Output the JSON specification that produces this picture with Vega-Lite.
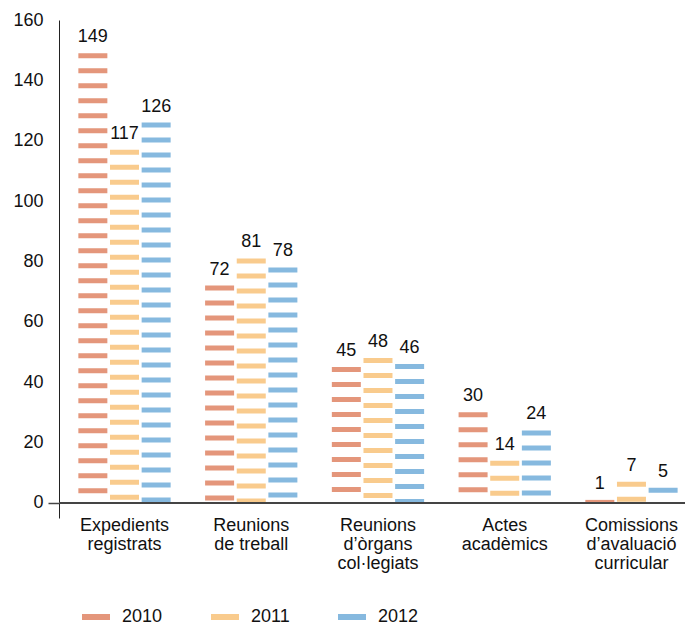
{
  "$schema": "https://vega.github.io/schema/vega-lite/v6.json",
  "width": 626,
  "height": 498,
  "autosize": {"type": "none"},
  "padding": {"left": 59, "top": 20, "right": 0, "bottom": 107},
  "background": "white",
  "config": {"view": {"stroke": null}, "font": "Liberation Sans"},
  "data": {
    "values": [
      {"cat": "Expedients|registrats", "year": "2010", "v": 149},
      {"cat": "Expedients|registrats", "year": "2011", "v": 117},
      {"cat": "Expedients|registrats", "year": "2012", "v": 126},
      {"cat": "Reunions|de treball", "year": "2010", "v": 72},
      {"cat": "Reunions|de treball", "year": "2011", "v": 81},
      {"cat": "Reunions|de treball", "year": "2012", "v": 78},
      {"cat": "Reunions|d’òrgans|col·legiats", "year": "2010", "v": 45},
      {"cat": "Reunions|d’òrgans|col·legiats", "year": "2011", "v": 48},
      {"cat": "Reunions|d’òrgans|col·legiats", "year": "2012", "v": 46},
      {"cat": "Actes|acadèmics", "year": "2010", "v": 30},
      {"cat": "Actes|acadèmics", "year": "2011", "v": 14},
      {"cat": "Actes|acadèmics", "year": "2012", "v": 24},
      {"cat": "Comissions|d’avaluació|curricular", "year": "2010", "v": 1},
      {"cat": "Comissions|d’avaluació|curricular", "year": "2011", "v": 7},
      {"cat": "Comissions|d’avaluació|curricular", "year": "2012", "v": 5}
    ]
  },
  "layer": [
    {
      "mark": {"type": "rule", "strokeWidth": 29, "strokeDash": [5, 10], "strokeCap": "butt"},
      "encoding": {
        "x": {
          "field": "cat", "type": "nominal", "sort": null,
          "scale": {"paddingInner": 0.266, "paddingOuter": 0.1026, "align": 0.73},
          "axis": {
            "title": null, "domain": false, "ticks": false,
            "labelExpr": "split(datum.label, '|')",
            "labelFontSize": 18, "labelColor": "#111", "labelLineHeight": 19,
            "labelPadding": -2, "labelAngle": 0, "labelBaseline": "top"
          }
        },
        "xOffset": {"field": "year", "type": "nominal", "scale": {"paddingInner": 0.06, "paddingOuter": 0}},
        "y": {
          "field": "v", "type": "quantitative",
          "scale": {"domain": [-5, 160], "nice": false, "zero": false},
          "axis": {
            "title": null, "grid": false,
            "values": [0, 20, 40, 60, 80, 100, 120, 140, 160],
            "domainColor": "#222", "domainWidth": 1,
            "tickSize": 11, "tickColor": "#444", "tickWidth": 1.5,
            "tickOpacity": {"condition": {"test": "datum.value === 0", "value": 1}, "value": 0},
            "labelFontSize": 18, "labelColor": "#111", "labelPadding": 5
          }
        },
        "y2": {"datum": 0},
        "color": {
          "field": "year", "type": "nominal",
          "scale": {"range": ["#E4967B", "#F9CB8D", "#86B9DF"]},
          "legend": {
            "orient": "none", "legendX": 20, "legendY": 580,
            "direction": "horizontal", "title": null,
            "symbolType": "stroke", "symbolSize": 784, "symbolStrokeWidth": 6,
            "symbolDash": [1, 0],
            "labelFontSize": 18, "labelColor": "#111", "labelOffset": 9,
            "columnPadding": 36
          }
        }
      }
    },
    {
      "mark": {"type": "rule", "color": "#444", "strokeWidth": 1.5},
      "encoding": {"y": {"datum": 0}}
    },
    {
      "mark": {"type": "text", "baseline": "alphabetic", "dy": -11, "fontSize": 18, "color": "#111"},
      "encoding": {
        "x": {"field": "cat", "type": "nominal", "sort": null},
        "xOffset": {"field": "year", "type": "nominal"},
        "y": {"field": "v", "type": "quantitative"},
        "text": {"field": "v", "type": "quantitative"}
      }
    }
  ]
}
